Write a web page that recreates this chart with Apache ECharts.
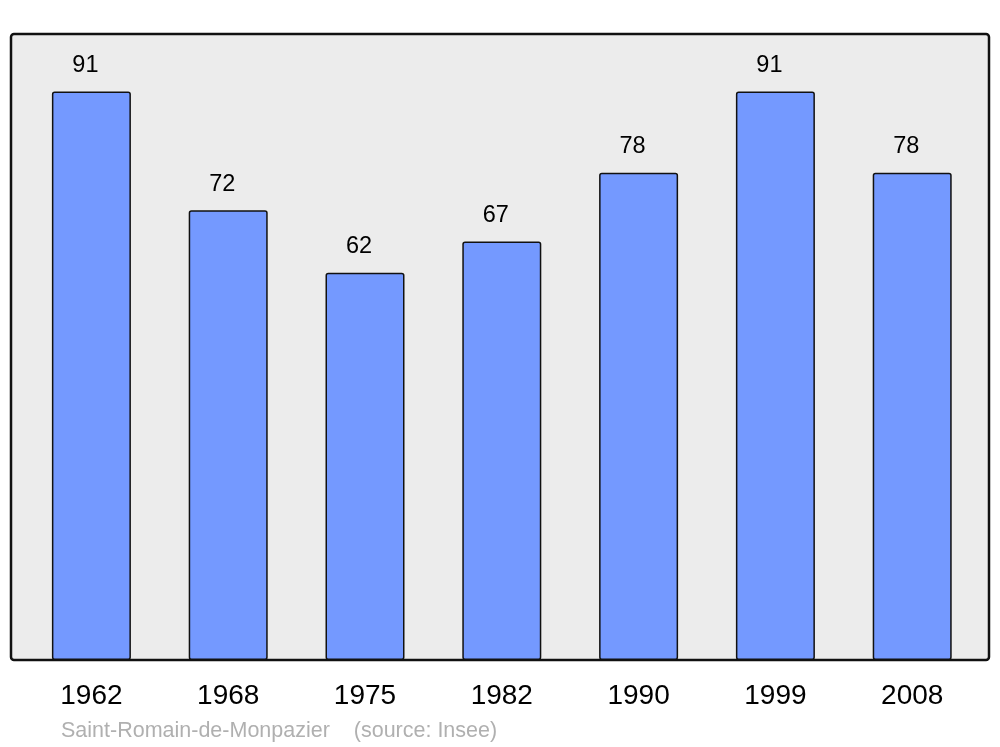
<!DOCTYPE html>
<html>
<head>
<meta charset="utf-8">
<script src="https://cdn.jsdelivr.net/npm/echarts@6/dist/echarts.min.js"></script>
<style>
html,body{margin:0;padding:0;background:#fff;}
#chart{width:1000px;height:747px;}
</style>
</head>
<body>
<div id="chart"></div>
<script>
const years = ['1962','1968','1975','1982','1990','1999','2008'];
const population = [91, 72, 62, 67, 78, 91, 78];
const sourceText = 'Saint-Romain-de-Monpazier    (source: Insee)';

const chart = echarts.init(document.getElementById('chart'), null, {renderer: 'canvas'});
chart.setOption({
  animation: false,
  backgroundColor: '#ffffff',
  textStyle: {fontFamily: 'Liberation Sans, Arial, sans-serif'},
  graphic: [
    {
      type: 'rect',
      z: -10,
      shape: {x: 11, y: 34, width: 978, height: 626, r: 3},
      style: {fill: '#ececec', stroke: '#111111', lineWidth: 2.5}
    },
    {
      type: 'text',
      left: 61,
      top: 720,
      style: {
        text: sourceText,
        fill: '#b0b0b0',
        font: '21.5px "Liberation Sans", Arial, sans-serif'
      }
    }
  ],
  grid: {left: 23, right: 19.4, top: 35.3, bottom: 87, containLabel: false},
  xAxis: {
    type: 'category',
    data: years,
    axisLine: {show: false},
    axisTick: {show: false},
    axisLabel: {color: '#000', fontSize: 28, margin: 22.5, fontFamily: 'Liberation Sans, Arial, sans-serif'},
    splitLine: {show: false}
  },
  yAxis: {
    type: 'value',
    min: 0,
    max: 100,
    show: false,
    splitLine: {show: false}
  },
  series: [{
    type: 'bar',
    data: population,
    barWidth: 79,
    itemStyle: {color: '#7499ff', borderColor: '#111111', borderWidth: 1.5, borderRadius: 2},
    label: {
      show: true,
      position: 'top',
      distance: 14,
      offset: [-6, 0],
      color: '#000',
      fontSize: 23.5,
      fontFamily: 'Liberation Sans, Arial, sans-serif'
    }
  }]
});
</script>
</body>
</html>
